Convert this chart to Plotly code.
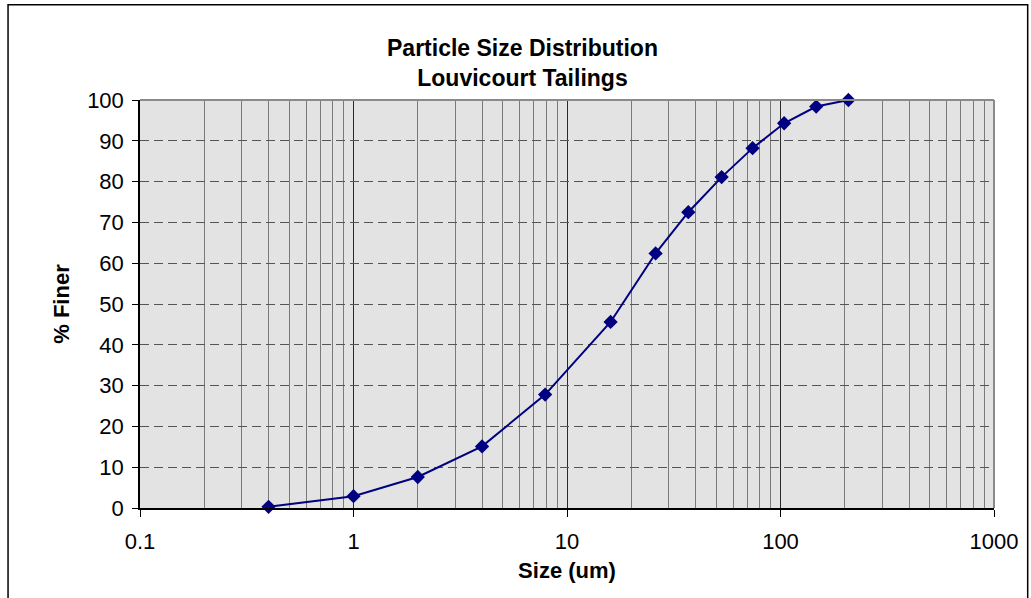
import plotly.graph_objects as go

size_um = [0.4, 1, 2, 4, 7.9, 16, 26, 37, 53, 74, 104, 147, 208]
pct_finer = [0.3, 2.9, 7.6, 15.1, 27.8, 45.6, 62.4, 72.5, 81.1, 88.2, 94.3, 98.4, 100]

x_major = [0.1, 1, 10, 100, 1000]
x_major_text = ["0.1", "1", "10", "100", "1000"]
x_minor = [k * d for d in [0.1, 1, 10, 100] for k in range(2, 10)]
y_ticks = list(range(0, 101, 10))

FONT = "Liberation Sans, Arial, sans-serif"

fig = go.Figure()
fig.add_trace(go.Scatter(
    x=size_um, y=pct_finer, mode="lines+markers",
    line=dict(color="#000080", width=2),
    marker=dict(symbol="diamond", size=11, color="#000080"),
    cliponaxis=False,
    showlegend=False,
))

fig.update_layout(
    width=1031, height=598,
    margin=dict(l=140, r=37, t=100, b=90, pad=0),
    paper_bgcolor="white",
    plot_bgcolor="#E3E3E3",
    font=dict(family=FONT, size=22, color="black"),
    xaxis=dict(
        type="log", range=[-1, 3],
        tickmode="array", tickvals=x_major, ticktext=x_major_text,
        ticks="outside", ticklen=7, tickcolor="black", tickwidth=1,
        showline=True, linecolor="black", linewidth=1.5,
        showgrid=True, gridcolor="#2a2a2a", gridwidth=1,
        minor=dict(tickmode="array", tickvals=x_minor, showgrid=True,
                   gridcolor="#7a7a7a", gridwidth=1, ticks=""),
        zeroline=False,
        tickfont=dict(size=22),
        ticklabelstandoff=6,
        title=dict(text="<b>Size (um)</b>", font=dict(size=22), standoff=9),
    ),
    yaxis=dict(
        range=[0, 100], tickmode="array", tickvals=y_ticks,
        ticks="outside", ticklen=6, tickcolor="black", tickwidth=1,
        showline=True, linecolor="black", linewidth=1.5,
        showgrid=True, gridcolor="#555555", gridwidth=1, griddash="9px,5px",
        zeroline=False,
        tickfont=dict(size=22),
        ticklabelstandoff=4,
        title=dict(text="<b>% Finer</b>", font=dict(size=22), standoff=11),
    ),
    annotations=[dict(
        text="<b>Particle Size Distribution<br>Louvicourt Tailings</b>",
        xref="paper", yref="paper", x=(523 - 140) / 854.3, y=(507.7 - 64) / 406.7,
        xanchor="center", yanchor="middle", showarrow=False,
        font=dict(size=23, family=FONT, color="black"),
    )],
    shapes=[
        dict(type="line", xref="paper", yref="paper", x0=0, x1=1, y0=1, y1=1,
             line=dict(color="#8a8a8a", width=2), layer="above"),
        dict(type="line", xref="paper", yref="paper", x0=1, x1=1, y0=0, y1=1,
             line=dict(color="#8a8a8a", width=2), layer="above"),
        dict(type="rect", xref="paper", yref="paper",
             x0=(8 - 140) / 854.3, x1=(1028 - 140) / 854.3,
             y0=(507.7 - 605) / 406.7, y1=(507.7 - 6) / 406.7,
             line=dict(color="black", width=1.5), layer="above"),
    ],
)

fig.write_html("out.html")
